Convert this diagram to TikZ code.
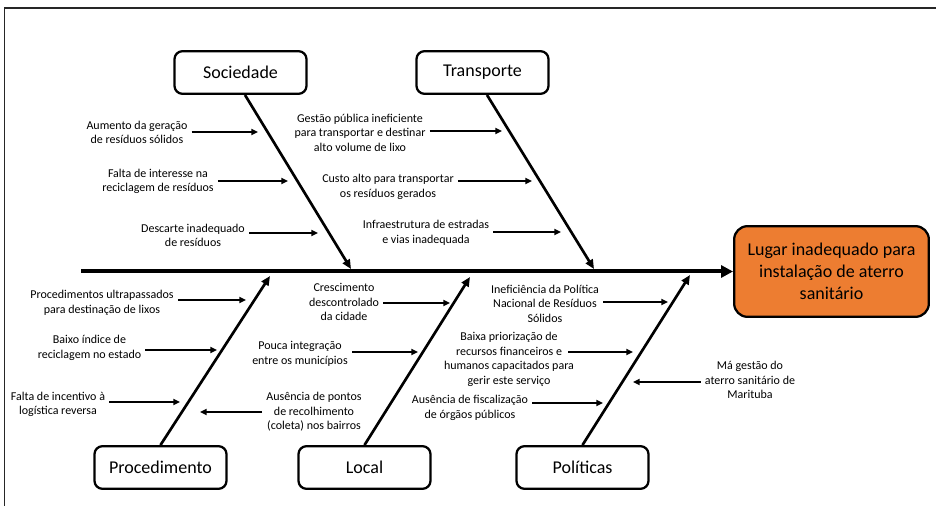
\documentclass[tikz,border=0pt]{standalone}
\usepackage{fontspec}
\setmainfont{Carlito}
\usetikzlibrary{arrows.meta,positioning,calc}
\definecolor{effectorange}{RGB}{237,125,49}
\tikzset{
  catbox/.style={draw, line width=1.7pt, rounded corners=6pt, minimum width=99pt, minimum height=32pt, font=\fontsize{13.5}{16}\selectfont},
  effbox/.style={draw, line width=1.7pt, rounded corners=10pt, fill=effectorange, minimum width=146pt, minimum height=68pt, align=center, font=\fontsize{13.5}{16.3}\selectfont},
  cause/.style={align=center, inner sep=3pt, font=\fontsize{9}{10.9}\selectfont},
  spine/.style={line width=3pt, -{Triangle[length=9pt,width=9pt]}},
  bone/.style={line width=2pt, -{Triangle[length=7pt,width=6pt]}},
  why/.style={line width=1.5pt, -{Triangle[length=5pt,width=4.5pt]}},
}

\begin{document}
\begin{tikzpicture}[x=0.75pt, y=-0.75pt]
        \useasboundingbox (0,0) rectangle (936,506);
        % --- frame
        \draw[line width=1.1pt, black!85] (4.5,506) -- (4.5,8) -- (936,8);

        % --- categories and effect
        \node[catbox] (soc) at (240.5,72.5) {Sociedade};
        \node[catbox] (tra) at (482.5,72.5) {Transporte};
        \node[catbox] (proc) at (160.5,467.5) {Procedimento};
        \node[catbox] (loc) at (364.5,467.5) {Local};
        \node[catbox] (pol) at (582.5,467.5) {Políticas};
        \node[effbox] (eff) at (831.5,271.5) {Lugar inadequado para\\instalação de aterro\\sanitário};

        % --- spine and bones
        \coordinate (tail) at (81,271.5);
        \draw[spine] (tail) -- (eff.west);
        \coordinate (soc-b) at (351,269);
        \coordinate (tra-b) at (594,269);
        \coordinate (proc-b) at (270,276);
        \coordinate (loc-b) at (470,277);
        \coordinate (pol-b) at (690,275);
        \draw[bone] ($(soc.south)+(4.5,0)$) -- (soc-b);
        \draw[bone] ($(tra.south)+(4.5,0)$) -- (tra-b);
        \foreach \b in {proc,loc,pol}
          \draw[bone] (\b.north) -- (\b-b);

        % --- causes
        \node[cause] (aum) at (137,132.5) {Aumento da geração\\de resíduos sólidos};
        \node[cause] (fal) at (158,181.5) {Falta de interesse na\\reciclagem de resíduos};
        \node[cause] (des) at (193,235.5) {Descarte inadequado\\de resíduos};
        \node[cause] (ges) at (360,132.5) {Gestão pública ineficiente\\para transportar e destinar\\alto volume de lixo};
        \node[cause] (cus) at (388,187) {Custo alto para transportar\\os resíduos gerados};
        \node[cause] (inf) at (426,233) {Infraestrutura de estradas\\e vias inadequada};
        \node[cause] (pro) at (102,303) {Procedimentos ultrapassados\\para destinação de lixos};
        \node[cause] (bai) at (89.5,348) {Baixo índice de\\reciclagem no estado};
        \node[cause] (fin) at (58,404.5) {Falta de incentivo à\\logística reversa};
        \node[cause] (aus) at (314,412) {Ausência de pontos\\de recolhimento\\(coleta) nos bairros};
        \node[cause] (cre) at (344,302) {Crescimento\\descontrolado\\da cidade};
        \node[cause] (pou) at (300,354) {Pouca integração\\entre os municípios};
        \node[cause] (ine) at (545,303.5) {Ineficiência da Política\\Nacional de Resíduos\\Sólidos};
        \node[cause] (bpr) at (509,359.5) {Baixa priorização de\\recursos financeiros e\\humanos capacitados para\\gerir este serviço};
        \node[cause] (afi) at (470,408) {Ausência de fiscalização\\de órgãos públicos};
        \node[cause] (mag) at (750,380) {Má gestão do\\aterro sanitário de\\Marituba};

        % --- arrow tips near the bones
        \coordinate (aum-t) at (258,132);
        \coordinate (fal-t) at (288,181);
        \coordinate (des-t) at (318,233);
        \coordinate (ges-t) at (502,131);
        \coordinate (cus-t) at (532,181);
        \coordinate (inf-t) at (561,232);
        \coordinate (pro-t) at (246,300);
        \coordinate (bai-t) at (217,350);
        \coordinate (fin-t) at (180,402);
        \coordinate (aus-t) at (200,412);
        \coordinate (cre-t) at (450,303);
        \coordinate (pou-t) at (418,352);
        \coordinate (ine-t) at (668,302);
        \coordinate (bpr-t) at (633,352);
        \coordinate (afi-t) at (603,403);
        \coordinate (mag-t) at (633,382);

        \foreach \c in {aum,fal,des,ges,cus,inf,pro,bai,fin,cre,pou,ine,afi}
          \draw[why] (\c.east |- \c-t) -- (\c-t);
        \draw[why] ($(bpr.east |- bpr-t)+(-10,0)$) -- (bpr-t);
        \foreach \c in {aus,mag}
          \draw[why] (\c.west |- \c-t) -- (\c-t);
      \end{tikzpicture}
\end{document}
